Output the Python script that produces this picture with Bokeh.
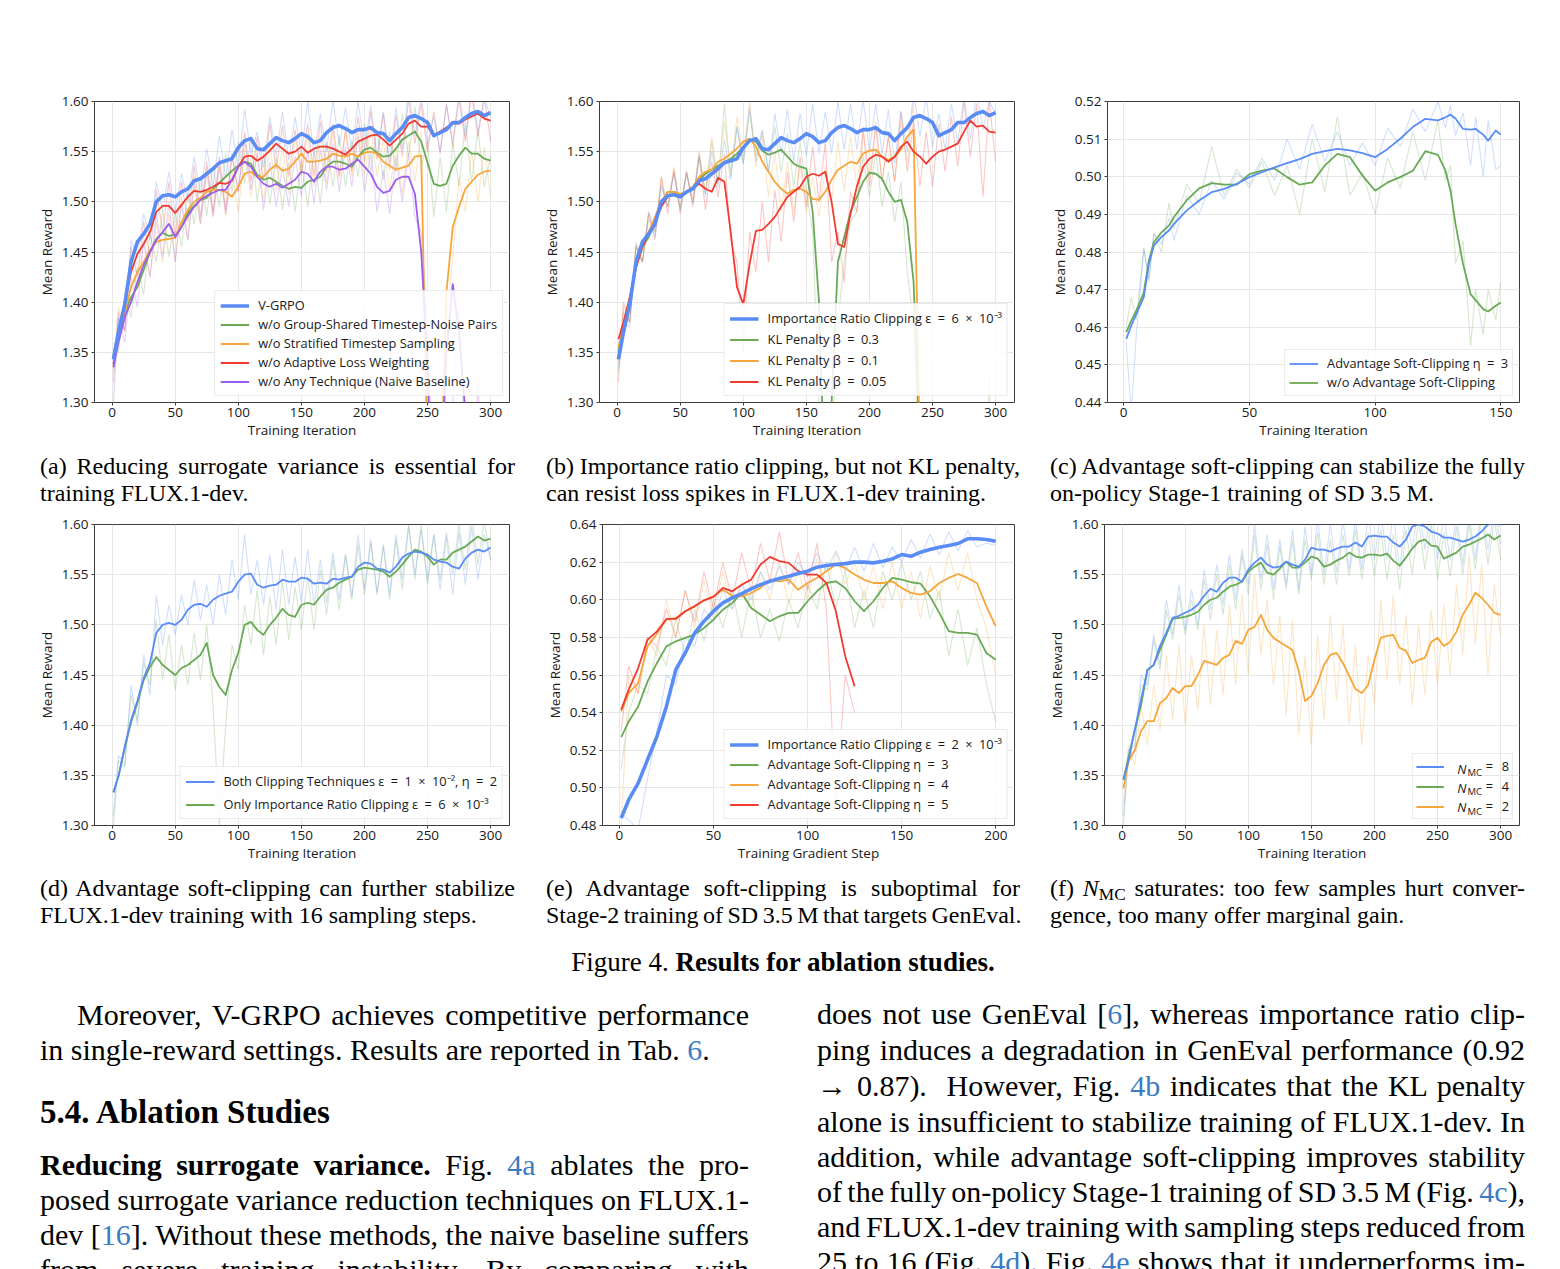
import numpy as np
from bokeh.plotting import figure
from bokeh.layouts import column, row
from bokeh.models import Div, FixedTicker, PrintfTickFormatter, Legend, LegendItem, Label, Range1d
from bokeh.embed import file_html
from bokeh.resources import INLINE

nan = float("nan")

# ---------------------------------------------------------------- data
ITER_300 = [1] + list(range(5, 301, 5))
STEP_200 = [1] + list(range(5, 201, 5))
ITER_150 = [1, 3, 5, 8, 10, 12, 15, 18, 20,
            25, 30, 35, 40, 45, 50, 55, 60, 65, 70, 75, 80, 85, 90, 95, 100, 105, 110, 115, 120, 125,
            128, 130, 132, 135, 138, 140, 143, 145, 148, 150]

# (a) surrogate-variance ablation, smoothed
a_vgrpo = [1.343, 1.370, 1.398, 1.440, 1.460, 1.468, 1.478, 1.500, 1.506, 1.507,
           1.505, 1.510, 1.513, 1.521, 1.523, 1.528, 1.533, 1.539, 1.541, 1.543,
           1.554, 1.561, 1.563, 1.553, 1.552, 1.558, 1.564, 1.561, 1.559, 1.563,
           1.568, 1.565, 1.559, 1.561, 1.569, 1.574, 1.576, 1.573, 1.569, 1.572,
           1.572, 1.574, 1.569, 1.568, 1.561, 1.568, 1.574, 1.584, 1.586, 1.583,
           1.579, 1.566, 1.569, 1.572, 1.579, 1.579, 1.584, 1.588, 1.590, 1.586,
           1.589]
a_no_shared = [1.345, 1.370, 1.390, 1.405, 1.415, 1.432, 1.450, 1.463, 1.469, 1.466,
               1.467, 1.475, 1.489, 1.496, 1.502, 1.504, 1.513, 1.519, 1.525, 1.531,
               1.536, 1.540, 1.538, 1.527, 1.522, 1.524, 1.520, 1.516, 1.513, 1.515,
               1.514, 1.520, 1.522, 1.525, 1.535, 1.540, 1.540, 1.538, 1.535, 1.545,
               1.552, 1.554, 1.549, 1.545, 1.546, 1.553, 1.562, 1.566, 1.570, 1.560,
               1.539, 1.518, 1.516, 1.518, 1.536, 1.546, 1.554, 1.548, 1.548, 1.543,
               1.541]
a_no_strat = [1.348, 1.370, 1.390, 1.415, 1.430, 1.440, 1.452, 1.460, 1.462, 1.463,
              1.464, 1.480, 1.492, 1.500, 1.504, 1.510, 1.512, 1.512, 1.510, 1.505,
              1.515, 1.528, 1.530, 1.525, 1.525, 1.532, 1.537, 1.531, 1.533, 1.540,
              1.548, 1.540, 1.540, 1.541, 1.543, 1.548, 1.546, 1.545, 1.548, 1.545,
              1.549, 1.550, 1.548, 1.540, 1.536, 1.532, 1.534, 1.536, 1.545, 1.546,
              1.250, 1.150, 1.200, 1.410, 1.475, 1.495, 1.513, 1.520, 1.527, 1.530,
              1.531]
a_no_weight = [1.338, 1.365, 1.400, 1.430, 1.448, 1.458, 1.470, 1.490, 1.496, 1.496,
               1.489, 1.497, 1.505, 1.511, 1.510, 1.512, 1.515, 1.519, 1.518, 1.521,
               1.535, 1.545, 1.546, 1.541, 1.545, 1.551, 1.558, 1.553, 1.548, 1.550,
               1.555, 1.549, 1.553, 1.555, 1.555, 1.553, 1.550, 1.547, 1.553, 1.560,
               1.563, 1.566, 1.567, 1.562, 1.556, 1.562, 1.568, 1.578, 1.581, 1.575,
               1.575, 1.566, 1.570, 1.574, 1.578, 1.578, 1.582, 1.585, 1.588, 1.583,
               1.581]
a_naive = [1.335, 1.360, 1.385, 1.400, 1.420, 1.437, 1.450, 1.462, 1.470, 1.478,
           1.465, 1.475, 1.486, 1.495, 1.502, 1.506, 1.509, 1.512, 1.512, 1.522,
           1.535, 1.540, 1.535, 1.525, 1.518, 1.515, 1.518, 1.514, 1.518, 1.522,
           1.530, 1.528, 1.520, 1.530, 1.535, 1.535, 1.532, 1.533, 1.538, 1.542,
           1.535, 1.528, 1.515, 1.509, 1.511, 1.522, 1.525, 1.525, 1.508, 1.450,
           1.340, 1.150, 1.200, 1.350, 1.418, 1.370, 1.290, 1.150, 1.100, 1.100,
           1.100]

# (a) per-iteration rewards
a_vgrpo_raw = [1.330, 1.385, 1.372, 1.462, 1.445, 1.488, 1.463, 1.520, 1.492, 1.530,
               1.490, 1.528, 1.500, 1.545, 1.508, 1.553, 1.515, 1.566, 1.524, 1.572,
               1.535, 1.592, 1.548, 1.570, 1.534, 1.585, 1.546, 1.590, 1.542, 1.585,
               1.548, 1.600, 1.545, 1.588, 1.550, 1.602, 1.556, 1.594, 1.550, 1.600,
               1.553, 1.596, 1.546, 1.590, 1.540, 1.594, 1.552, 1.612, 1.566, 1.606,
               1.558, 1.585, 1.550, 1.596, 1.560, 1.608, 1.565, 1.612, 1.570, 1.603,
               1.585]
a_no_shared_raw = [1.360, 1.350, 1.405, 1.385, 1.435, 1.408, 1.468, 1.440, 1.492, 1.445,
                   1.490, 1.455, 1.510, 1.478, 1.525, 1.486, 1.537, 1.495, 1.548, 1.510,
                   1.560, 1.518, 1.565, 1.500, 1.548, 1.498, 1.545, 1.492, 1.540, 1.490,
                   1.542, 1.495, 1.550, 1.498, 1.560, 1.515, 1.566, 1.515, 1.562, 1.525,
                   1.578, 1.530, 1.572, 1.522, 1.570, 1.530, 1.588, 1.545, 1.595, 1.535,
                   1.560, 1.485, 1.545, 1.490, 1.560, 1.515, 1.580, 1.520, 1.572, 1.515,
                   1.545]
a_no_strat_raw = [1.335, 1.395, 1.370, 1.440, 1.412, 1.465, 1.425, 1.480, 1.440, 1.488,
                  1.440, 1.505, 1.462, 1.525, 1.478, 1.535, 1.486, 1.538, 1.485, 1.530,
                  1.490, 1.552, 1.505, 1.550, 1.500, 1.558, 1.510, 1.555, 1.508, 1.565,
                  1.525, 1.568, 1.515, 1.566, 1.518, 1.572, 1.522, 1.570, 1.525, 1.570,
                  1.525, 1.575, 1.525, 1.562, 1.510, 1.556, 1.508, 1.560, 1.520, 1.570,
                  1.200, 1.100, 1.150, 1.380, 1.445, 1.525, 1.490, 1.550, 1.500, 1.555,
                  1.505]
a_no_weight_raw = [1.320, 1.390, 1.372, 1.455, 1.425, 1.480, 1.445, 1.512, 1.470, 1.520,
                   1.465, 1.520, 1.480, 1.536, 1.485, 1.540, 1.490, 1.545, 1.492, 1.548,
                   1.510, 1.570, 1.520, 1.565, 1.522, 1.578, 1.532, 1.576, 1.525, 1.572,
                   1.530, 1.578, 1.526, 1.580, 1.530, 1.578, 1.526, 1.572, 1.530, 1.585,
                   1.540, 1.590, 1.542, 1.588, 1.532, 1.586, 1.545, 1.602, 1.558, 1.598,
                   1.550, 1.590, 1.548, 1.598, 1.555, 1.602, 1.560, 1.608, 1.565, 1.605,
                   1.560]
a_naive_raw = [1.300, 1.385, 1.360, 1.425, 1.395, 1.460, 1.425, 1.488, 1.445, 1.500,
               1.440, 1.498, 1.462, 1.518, 1.478, 1.530, 1.485, 1.535, 1.488, 1.545,
               1.510, 1.562, 1.512, 1.548, 1.492, 1.540, 1.495, 1.535, 1.495, 1.545,
               1.505, 1.552, 1.498, 1.552, 1.512, 1.558, 1.510, 1.555, 1.515, 1.565,
               1.510, 1.550, 1.490, 1.532, 1.488, 1.545, 1.500, 1.548, 1.485, 1.470,
               1.380, 1.200, 1.150, 1.250, 1.300, 1.395, 1.250, 1.150, 1.325, 1.100,
               1.100]

# (b) importance ratio clipping vs. KL penalty
b_ratio_clip = list(a_vgrpo)
b_kl_03 = [1.350, 1.375, 1.400, 1.435, 1.455, 1.465, 1.480, 1.495, 1.510, 1.510,
           1.507, 1.510, 1.515, 1.522, 1.528, 1.532, 1.536, 1.540, 1.543, 1.548,
           1.555, 1.562, 1.560, 1.551, 1.547, 1.549, 1.552, 1.545, 1.538, 1.535,
           1.533, 1.490, 1.400, 1.200, 1.300, 1.440, 1.465, 1.490, 1.505, 1.520,
           1.529, 1.528, 1.523, 1.510, 1.500, 1.502, 1.480, 1.420, 1.250, 1.100,
           1.100, 1.100, 1.100, 1.100, 1.100, 1.100, 1.100, 1.100, 1.100, 1.100,
           1.100]
b_kl_01 = [1.355, 1.375, 1.405, 1.435, 1.455, 1.470, 1.485, 1.500, 1.510, 1.510,
           1.508, 1.510, 1.515, 1.525, 1.530, 1.532, 1.540, 1.543, 1.548, 1.553,
           1.560, 1.563, 1.555, 1.540, 1.530, 1.520, 1.513, 1.508, 1.512, 1.513,
           1.510, 1.503, 1.502, 1.510, 1.522, 1.532, 1.536, 1.540, 1.538, 1.548,
           1.551, 1.552, 1.545, 1.542, 1.545, 1.552, 1.565, 1.572, 1.250, 1.100,
           1.100, 1.100, 1.100, 1.100, 1.100, 1.100, 1.100, 1.100, 1.100, 1.100,
           1.100]
b_kl_005 = [1.363, 1.380, 1.405, 1.435, 1.455, 1.468, 1.480, 1.495, 1.505, 1.508,
            1.505, 1.510, 1.513, 1.518, 1.513, 1.510, 1.524, 1.520, 1.470, 1.415,
            1.398, 1.438, 1.471, 1.472, 1.478, 1.485, 1.495, 1.505, 1.510, 1.515,
            1.525, 1.528, 1.526, 1.530, 1.500, 1.458, 1.455, 1.488, 1.515, 1.535,
            1.543, 1.547, 1.545, 1.540, 1.545, 1.555, 1.560, 1.550, 1.545, 1.538,
            1.545, 1.550, 1.552, 1.555, 1.558, 1.570, 1.581, 1.575, 1.576, 1.570,
            1.569]
b_ratio_clip_raw = [1.335, 1.380, 1.375, 1.458, 1.440, 1.490, 1.465, 1.518, 1.495, 1.528,
                    1.492, 1.530, 1.498, 1.548, 1.505, 1.550, 1.518, 1.562, 1.522, 1.575,
                    1.538, 1.595, 1.545, 1.572, 1.530, 1.588, 1.548, 1.592, 1.540, 1.588,
                    1.545, 1.598, 1.548, 1.590, 1.548, 1.600, 1.552, 1.598, 1.552, 1.602,
                    1.550, 1.598, 1.548, 1.592, 1.538, 1.590, 1.550, 1.610, 1.565, 1.604,
                    1.555, 1.588, 1.552, 1.598, 1.558, 1.606, 1.562, 1.610, 1.572, 1.600,
                    1.588]
b_kl_03_raw = [1.330, 1.390, 1.380, 1.455, 1.440, 1.482, 1.470, 1.515, 1.495, 1.530,
               1.492, 1.528, 1.500, 1.545, 1.508, 1.560, 1.515, 1.598, 1.525, 1.575,
               1.538, 1.590, 1.540, 1.570, 1.530, 1.575, 1.530, 1.568, 1.515, 1.560,
               1.510, 1.470, 1.300, 1.150, 1.250, 1.380, 1.440, 1.480, 1.490, 1.545,
               1.505, 1.550, 1.495, 1.530, 1.480, 1.520, 1.430, 1.380, 1.200, 1.100,
               1.100, 1.100, 1.100, 1.100, 1.100, 1.100, 1.100, 1.100, 1.100, 1.330,
               1.100]
b_kl_01_raw = [1.340, 1.395, 1.380, 1.460, 1.440, 1.490, 1.470, 1.525, 1.495, 1.535,
               1.495, 1.530, 1.502, 1.550, 1.510, 1.565, 1.520, 1.580, 1.530, 1.585,
               1.545, 1.600, 1.535, 1.565, 1.505, 1.550, 1.490, 1.540, 1.490, 1.535,
               1.490, 1.525, 1.485, 1.535, 1.500, 1.560, 1.510, 1.565, 1.515, 1.575,
               1.525, 1.580, 1.520, 1.565, 1.520, 1.580, 1.540, 1.600, 1.200, 1.100,
               1.100, 1.100, 1.100, 1.100, 1.100, 1.100, 1.100, 1.100, 1.100, 1.100,
               1.100]
b_kl_005_raw = [1.320, 1.400, 1.380, 1.455, 1.440, 1.488, 1.462, 1.525, 1.488, 1.532,
                1.488, 1.530, 1.495, 1.545, 1.492, 1.540, 1.505, 1.548, 1.462, 1.440,
                1.350, 1.470, 1.430, 1.500, 1.440, 1.512, 1.460, 1.530, 1.480, 1.545,
                1.495, 1.555, 1.500, 1.560, 1.440, 1.470, 1.420, 1.510, 1.490, 1.570,
                1.515, 1.575, 1.520, 1.565, 1.520, 1.590, 1.530, 1.580, 1.515, 1.570,
                1.515, 1.578, 1.530, 1.585, 1.535, 1.600, 1.545, 1.598, 1.505, 1.600,
                1.540]

# (c) SD 3.5 M Stage-1, advantage soft-clipping
c_soft_clip = [0.4569, 0.4604, 0.4635, 0.4680, 0.4768, 0.4817, 0.4840, 0.4857, 0.4875,
               0.4910, 0.4937, 0.4959, 0.4968, 0.4981, 0.4999, 0.5012, 0.5025, 0.5036, 0.5047,
               0.5061, 0.5068, 0.5074, 0.5070, 0.5063, 0.5052, 0.5074, 0.5101, 0.5132, 0.5154,
               0.5150, 0.5158, 0.5165, 0.5155, 0.5127, 0.5125, 0.5127, 0.5112, 0.5096, 0.5123,
               0.5112]
c_no_clip = [0.4587, 0.4617, 0.4644, 0.4693, 0.4777, 0.4826, 0.4852, 0.4870, 0.4893,
             0.4937, 0.4969, 0.4983, 0.4979, 0.4979, 0.5007, 0.5016, 0.5022, 0.4999, 0.4979,
             0.4985, 0.5030, 0.5061, 0.5052, 0.5003, 0.4963, 0.4985, 0.4999, 0.5016, 0.5068,
             0.5058, 0.5016, 0.4963, 0.4874, 0.4768, 0.4688, 0.4672, 0.4648, 0.4642, 0.4657,
             0.4666]
c_soft_clip_raw = [0.4560, 0.4370, 0.4580, 0.4810, 0.4730, 0.4850, 0.4820, 0.4890, 0.4830,
                   0.4950, 0.4900, 0.4990, 0.4940, 0.5010, 0.4980, 0.5050, 0.4990, 0.5100, 0.5020,
                   0.5140, 0.5040, 0.5120, 0.5030, 0.5090, 0.5030, 0.5130, 0.5080, 0.5180, 0.5120,
                   0.5200, 0.5130, 0.5190, 0.5110, 0.5170, 0.5030, 0.5160, 0.5000, 0.5150, 0.5020,
                   0.5030]
c_no_clip_raw = [0.4600, 0.4680, 0.4620, 0.4810, 0.4720, 0.4850, 0.4800, 0.4930, 0.4860,
                 0.4980, 0.4930, 0.5080, 0.4950, 0.5020, 0.4970, 0.5040, 0.4950, 0.5030, 0.4900,
                 0.5100, 0.4960, 0.5160, 0.4950, 0.5010, 0.4900, 0.5050, 0.4970, 0.5120, 0.4990,
                 0.5150, 0.4990, 0.5030, 0.4770, 0.4830, 0.4550, 0.4700, 0.4580, 0.4700, 0.4620,
                 0.4720]

# (d) FLUX.1-dev with 16 sampling steps
d_both = [1.333, 1.349, 1.379, 1.405, 1.424, 1.447, 1.462, 1.492, 1.500, 1.502,
          1.500, 1.505, 1.515, 1.520, 1.521, 1.518, 1.525, 1.529, 1.531, 1.533,
          1.543, 1.550, 1.551, 1.540, 1.537, 1.539, 1.540, 1.545, 1.543, 1.543,
          1.547, 1.546, 1.541, 1.542, 1.541, 1.546, 1.545, 1.547, 1.548, 1.558,
          1.562, 1.561, 1.556, 1.555, 1.552, 1.558, 1.567, 1.571, 1.573, 1.572,
          1.570, 1.565, 1.563, 1.562, 1.558, 1.556, 1.566, 1.572, 1.575, 1.573,
          1.577]
d_ratio_only = [1.333, 1.349, 1.377, 1.403, 1.422, 1.445, 1.458, 1.468, 1.460, 1.455,
                1.450, 1.457, 1.460, 1.465, 1.470, 1.482, 1.450, 1.438, 1.430, 1.455,
                1.472, 1.500, 1.503, 1.495, 1.490, 1.500, 1.507, 1.516, 1.510, 1.508,
                1.520, 1.522, 1.520, 1.528, 1.535, 1.537, 1.542, 1.545, 1.548, 1.555,
                1.557, 1.556, 1.555, 1.553, 1.548, 1.553, 1.560, 1.568, 1.575, 1.573,
                1.568, 1.560, 1.565, 1.565, 1.572, 1.575, 1.578, 1.583, 1.588, 1.584,
                1.586]
d_both_raw = [1.310, 1.370, 1.360, 1.440, 1.400, 1.470, 1.430, 1.530, 1.480, 1.520,
              1.490, 1.530, 1.500, 1.545, 1.505, 1.540, 1.500, 1.550, 1.510, 1.565,
              1.525, 1.590, 1.530, 1.565, 1.520, 1.570, 1.515, 1.575, 1.520, 1.568,
              1.522, 1.575, 1.520, 1.565, 1.522, 1.572, 1.525, 1.570, 1.528, 1.590,
              1.535, 1.585, 1.532, 1.580, 1.530, 1.590, 1.545, 1.600, 1.550, 1.595,
              1.545, 1.590, 1.535, 1.588, 1.530, 1.592, 1.540, 1.598, 1.545, 1.590,
              1.565]
d_ratio_only_raw = [1.300, 1.365, 1.358, 1.430, 1.405, 1.462, 1.440, 1.505, 1.445, 1.490,
                    1.435, 1.480, 1.440, 1.492, 1.445, 1.500, 1.420, 1.300, 1.400, 1.480,
                    1.455, 1.520, 1.480, 1.535, 1.470, 1.528, 1.480, 1.545, 1.485, 1.538,
                    1.495, 1.548, 1.495, 1.555, 1.510, 1.565, 1.515, 1.570, 1.525, 1.580,
                    1.530, 1.582, 1.530, 1.578, 1.525, 1.585, 1.535, 1.598, 1.545, 1.600,
                    1.540, 1.590, 1.545, 1.592, 1.550, 1.600, 1.555, 1.610, 1.560, 1.605,
                    1.565]

# (e) SD 3.5 M Stage-2 (GenEval)
e_ratio_clip = [0.4839, 0.4937, 0.5025, 0.5150, 0.5274, 0.5433, 0.5628, 0.5717, 0.5823, 0.5886,
                0.5939, 0.5983, 0.6010, 0.6033, 0.6058, 0.6080, 0.6098, 0.6113, 0.6125, 0.6139,
                0.6152, 0.6173, 0.6182, 0.6187, 0.6192, 0.6200, 0.6200, 0.6196, 0.6205, 0.6217,
                0.6240, 0.6231, 0.6253, 0.6267, 0.6279, 0.6288, 0.6299, 0.6324, 0.6324, 0.6320,
                0.6311]
e_eta_3 = [0.5270, 0.5353, 0.5433, 0.5566, 0.5664, 0.5752, 0.5779, 0.5797, 0.5815, 0.5850,
           0.5894, 0.5947, 0.5983, 0.6036, 0.5956, 0.5921, 0.5886, 0.5912, 0.5930, 0.5930,
           0.5992, 0.6045, 0.6089, 0.6098, 0.6063, 0.5992, 0.5939, 0.5992, 0.6063, 0.6116,
           0.6107, 0.6093, 0.6086, 0.6019, 0.5930, 0.5833, 0.5824, 0.5824, 0.5815, 0.5717,
           0.5681]
e_eta_4 = [0.5407, 0.5504, 0.5557, 0.5752, 0.5820, 0.5894, 0.5903, 0.5939, 0.5965, 0.5997,
           0.6018, 0.6053, 0.6021, 0.6018, 0.6036, 0.6063, 0.6107, 0.6098, 0.6107, 0.6053,
           0.6089, 0.6116, 0.6152, 0.6187, 0.6169, 0.6134, 0.6107, 0.6089, 0.6089, 0.6098,
           0.6063, 0.6036, 0.6027, 0.6045, 0.6089, 0.6116, 0.6137, 0.6116, 0.6089, 0.5965,
           0.5859]
e_eta_5 = [0.5416, 0.5522, 0.5637, 0.5788, 0.5832, 0.5898, 0.5898, 0.5939, 0.5965, 0.5997,
           0.6015, 0.6063, 0.6045, 0.6080, 0.6107, 0.6187, 0.6228, 0.6205, 0.6196, 0.6152,
           0.6134, 0.6134, 0.6090, 0.5940, 0.5700, 0.5540, nan, nan, nan, nan,
           nan, nan, nan, nan, nan, nan, nan, nan, nan, nan,
           nan]
e_ratio_clip_raw = [0.4860, 0.4830, 0.4780, 0.5050, 0.5300, 0.5600, 0.5550, 0.5800, 0.5750, 0.5950,
                    0.5880, 0.6050, 0.5950, 0.6080, 0.6000, 0.6150, 0.6050, 0.6180, 0.6080, 0.6200,
                    0.6120, 0.6250, 0.6150, 0.6260, 0.6150, 0.6280, 0.6150, 0.6300, 0.6170, 0.6280,
                    0.6200, 0.6320, 0.6220, 0.6350, 0.6240, 0.6360, 0.6260, 0.6370, 0.6280, 0.6300,
                    0.6290]
e_eta_3_raw = [0.5100, 0.5400, 0.5550, 0.5500, 0.5750, 0.5650, 0.5900, 0.5700, 0.5950, 0.5780,
               0.6000, 0.5850, 0.6050, 0.5800, 0.6050, 0.5800, 0.5950, 0.5780, 0.6000, 0.5850,
               0.6080, 0.5950, 0.6200, 0.5950, 0.6150, 0.5850, 0.6050, 0.5850, 0.6150, 0.6000,
               0.6200, 0.6000, 0.6150, 0.5900, 0.6050, 0.5700, 0.5950, 0.5650, 0.5850, 0.5550,
               0.5350]
e_eta_4_raw = [0.4800, 0.5600, 0.5500, 0.5800, 0.5700, 0.6000, 0.5800, 0.6050, 0.5850, 0.6100,
               0.5900, 0.6150, 0.5950, 0.6100, 0.5950, 0.6150, 0.6000, 0.6200, 0.5980, 0.6150,
               0.6000, 0.6220, 0.6050, 0.6250, 0.6080, 0.6200, 0.6000, 0.6180, 0.5950, 0.6200,
               0.5950, 0.6150, 0.5900, 0.6180, 0.6000, 0.6250, 0.6050, 0.6250, 0.6000, 0.5850,
               0.5600]
e_eta_5_raw = [0.5300, 0.5650, 0.5500, 0.5800, 0.5750, 0.5950, 0.5800, 0.6050, 0.5880, 0.6150,
               0.5950, 0.6200, 0.6000, 0.6250, 0.6050, 0.6300, 0.6100, 0.6360, 0.6080, 0.6250,
               0.6050, 0.6300, 0.5950, 0.4900, 0.5600, 0.5400, nan, nan, nan, nan,
               nan, nan, nan, nan, nan, nan, nan, nan, nan, nan,
               nan]

# (f) number of Monte-Carlo samples
f_nmc_8 = [1.3455, 1.364, 1.3955, 1.4255, 1.455, 1.460, 1.479, 1.492, 1.507, 1.509,
           1.512, 1.515, 1.520, 1.529, 1.536, 1.533, 1.542, 1.547, 1.547, 1.543,
           1.555, 1.562, 1.567, 1.560, 1.557, 1.558, 1.563, 1.560, 1.558, 1.565,
           1.577, 1.575, 1.575, 1.573, 1.576, 1.578, 1.578, 1.582, 1.578, 1.588,
           1.589, 1.588, 1.588, 1.582, 1.578, 1.585, 1.598, 1.600, 1.598, 1.593,
           1.591, 1.587, 1.587, 1.585, 1.583, 1.585, 1.588, 1.593, 1.600, 1.601,
           1.600]
f_nmc_4 = [1.3455, 1.368, 1.395, 1.420, 1.455, 1.460, 1.475, 1.490, 1.506, 1.507,
           1.508, 1.510, 1.513, 1.520, 1.525, 1.527, 1.533, 1.538, 1.540, 1.543,
           1.553, 1.558, 1.562, 1.552, 1.550, 1.556, 1.563, 1.557, 1.557, 1.562,
           1.568, 1.566, 1.558, 1.560, 1.564, 1.567, 1.572, 1.568, 1.567, 1.570,
           1.570, 1.569, 1.571, 1.564, 1.559, 1.567, 1.576, 1.583, 1.585, 1.579,
           1.578, 1.566, 1.569, 1.572, 1.578, 1.580, 1.583, 1.586, 1.590, 1.585,
           1.589]
f_nmc_2 = [1.337, 1.364, 1.375, 1.394, 1.404, 1.404, 1.422, 1.427, 1.437, 1.432,
           1.439, 1.439, 1.450, 1.464, 1.462, 1.460, 1.467, 1.470, 1.484, 1.481,
           1.495, 1.498, 1.510, 1.495, 1.487, 1.483, 1.479, 1.475, 1.454, 1.424,
           1.429, 1.442, 1.460, 1.470, 1.472, 1.462, 1.449, 1.436, 1.432, 1.440,
           1.465, 1.487, 1.489, 1.490, 1.477, 1.474, 1.462, 1.465, 1.467, 1.483,
           1.487, 1.479, 1.483, 1.493, 1.510, 1.520, 1.532, 1.527, 1.520, 1.512,
           1.510]
f_nmc_8_raw = [1.310, 1.375, 1.380, 1.450, 1.440, 1.490, 1.460, 1.525, 1.490, 1.540,
               1.495, 1.535, 1.500, 1.555, 1.515, 1.560, 1.520, 1.570, 1.525, 1.575,
               1.540, 1.600, 1.545, 1.590, 1.535, 1.585, 1.540, 1.595, 1.535, 1.598,
               1.550, 1.605, 1.550, 1.600, 1.552, 1.605, 1.555, 1.605, 1.555, 1.610,
               1.565, 1.612, 1.565, 1.610, 1.555, 1.610, 1.575, 1.620, 1.575, 1.615,
               1.565, 1.610, 1.565, 1.610, 1.560, 1.610, 1.565, 1.620, 1.575, 1.615,
               1.580]
f_nmc_4_raw = [1.300, 1.370, 1.375, 1.440, 1.435, 1.485, 1.455, 1.515, 1.485, 1.530,
               1.490, 1.525, 1.495, 1.545, 1.505, 1.550, 1.510, 1.560, 1.515, 1.570,
               1.530, 1.590, 1.535, 1.580, 1.525, 1.578, 1.535, 1.585, 1.530, 1.585,
               1.545, 1.592, 1.540, 1.585, 1.540, 1.590, 1.548, 1.595, 1.545, 1.592,
               1.548, 1.595, 1.545, 1.590, 1.535, 1.595, 1.550, 1.605, 1.555, 1.600,
               1.545, 1.592, 1.548, 1.598, 1.550, 1.600, 1.555, 1.610, 1.560, 1.605,
               1.565]
f_nmc_2_raw = [1.320, 1.380, 1.360, 1.420, 1.380, 1.440, 1.395, 1.470, 1.405, 1.480,
               1.400, 1.470, 1.415, 1.500, 1.420, 1.495, 1.430, 1.520, 1.440, 1.530,
               1.450, 1.550, 1.470, 1.525, 1.440, 1.510, 1.410, 1.505, 1.390, 1.470,
               1.380, 1.490, 1.405, 1.510, 1.425, 1.500, 1.400, 1.480, 1.380, 1.470,
               1.420, 1.525, 1.445, 1.530, 1.440, 1.510, 1.420, 1.500, 1.430, 1.515,
               1.440, 1.520, 1.450, 1.540, 1.470, 1.570, 1.480, 1.560, 1.450, 1.540,
               1.490]

REWARD_TICKS = [1.30, 1.35, 1.40, 1.45, 1.50, 1.55, 1.60]
GENEVAL_TICKS = [0.48, 0.50, 0.52, 0.54, 0.56, 0.58, 0.60, 0.62, 0.64]
STAGE1_TICKS = [0.44, 0.45, 0.46, 0.47, 0.48, 0.49, 0.50, 0.51, 0.52]

# ---------------------------------------------------------------- styling
BLUE, GREEN, ORANGE, RED, PURPLE = "#5a8cf5", "#6aaa56", "#f6a63a", "#f13b31", "#9b5cf0"
FONT = "Open Sans"
TICK_FS = "13.5px"
LABEL_FS = "13.5px"
LEG_FS = "12.8px"
FRAME_H = 301
BOTTOM = 44
RAW_ALPHA = 0.28
SP = "\u2002"   # wider gaps around math operators in legend entries


def panel(xr, yr, xticks, yticks, xlabel, left, fw, right, top):
    p = figure(x_range=Range1d(*xr), y_range=Range1d(*yr),
               frame_width=fw, frame_height=FRAME_H,
               min_border_left=left, min_border_right=right,
               min_border_top=top, min_border_bottom=BOTTOM,
               output_backend="svg", toolbar_location=None)
    p.background_fill_color = "white"
    p.border_fill_color = "white"
    p.outline_line_color = "#3c3c3c"
    p.outline_line_width = 1
    p.xaxis.ticker = FixedTicker(ticks=xticks)
    p.yaxis.ticker = FixedTicker(ticks=yticks)
    p.yaxis.formatter = PrintfTickFormatter(format="%.2f")
    for ax in p.axis:
        ax.axis_line_color = None
        ax.major_tick_line_color = "#3c3c3c"
        ax.major_tick_out = 3
        ax.major_tick_in = 0
        ax.minor_tick_line_color = None
        ax.major_label_text_font = FONT
        ax.major_label_text_font_size = TICK_FS
        ax.major_label_text_color = "#1a1a1a"
        ax.axis_label_text_font = FONT
        ax.axis_label_text_font_size = LABEL_FS
        ax.axis_label_text_font_style = "normal"
        ax.axis_label_text_color = "#1a1a1a"
    p.xaxis.major_label_standoff = 2
    p.yaxis.major_label_standoff = 3
    p.xaxis.axis_label_standoff = 1
    p.yaxis.axis_label_standoff = 3
    p.xaxis.axis_label = xlabel
    p.yaxis.axis_label = "Mean Reward"
    p.grid.grid_line_color = "#e7e7e7"
    p.grid.grid_line_width = 1
    return p


def curves(p, x, series):
    """series: list of (smoothed, raw, color, width, label); raw drawn first."""
    xs = np.array(x, dtype=float)
    for sm, raw, color, width, label in series:
        p.line(xs, np.array(raw, dtype=float), color=color, alpha=RAW_ALPHA, line_width=1.1)
    out = []
    for sm, raw, color, width, label in series:
        r = p.line(xs, np.array(sm, dtype=float), color=color, line_width=width, line_join="round")
        out.append((label, r))
    return out


def legend(p, entries, spacing, padding, margin=6, glyph_width=29, standoff=9, bg_alpha=0.85):
    items = [LegendItem(label=lab, renderers=[r]) for lab, r in entries]
    lg = Legend(items=items, location="bottom_right", orientation="vertical",
                label_text_font=FONT, label_text_font_size=LEG_FS, label_text_color="#1a1a1a",
                glyph_width=glyph_width, glyph_height=15, label_height=15,
                label_standoff=standoff, spacing=spacing, padding=padding, margin=margin,
                border_line_color="#d6d6d6", border_line_width=1,
                background_fill_color="white", background_fill_alpha=bg_alpha)
    p.add_layout(lg)
    return lg


X300 = (-14, 315)

# (a)
pa = panel(X300, (1.30, 1.60), [0, 50, 100, 150, 200, 250, 300], REWARD_TICKS,
           "Training Iteration", 94, 415, 10, 101)
ea = curves(pa, ITER_300, [
    (a_no_shared, a_no_shared_raw, GREEN, 1.8, "w/o Group-Shared Timestep-Noise Pairs"),
    (a_no_strat, a_no_strat_raw, ORANGE, 1.8, "w/o Stratified Timestep Sampling"),
    (a_no_weight, a_no_weight_raw, RED, 1.8, "w/o Adaptive Loss Weighting"),
    (a_naive, a_naive_raw, PURPLE, 1.8, "w/o Any Technique (Naive Baseline)"),
    (a_vgrpo, a_vgrpo_raw, BLUE, 3.6, "V-GRPO"),
])
legend(pa, [ea[4], ea[0], ea[1], ea[2], ea[3]], spacing=1, padding=5)

# (b)
pb = panel(X300, (1.30, 1.60), [0, 50, 100, 150, 200, 250, 300], REWARD_TICKS,
           "Training Iteration", 80, 415, 10, 101)
eb = curves(pb, ITER_300, [
    (b_kl_03, b_kl_03_raw, GREEN, 1.8, f"KL Penalty β{SP}={SP}0.3"),
    (b_kl_01, b_kl_01_raw, ORANGE, 1.8, f"KL Penalty β{SP}={SP}0.1"),
    (b_kl_005, b_kl_005_raw, RED, 1.8, f"KL Penalty β{SP}={SP}0.05"),
    (b_ratio_clip, b_ratio_clip_raw, BLUE, 3.6,
     f"Importance Ratio Clipping ε{SP}={SP}6{SP}×{SP}10⁻³"),
])
legend(pb, [eb[3], eb[0], eb[1], eb[2]], spacing=3, padding=5)

# (c)
pc = panel((-6.45, 157.45), (0.44, 0.52), [0, 50, 100, 150], STAGE1_TICKS,
           "Training Iteration", 83, 412, 41, 101)
ec = curves(pc, ITER_150, [
    (c_no_clip, c_no_clip_raw, GREEN, 1.8, "w/o Advantage Soft-Clipping"),
    (c_soft_clip, c_soft_clip_raw, BLUE, 1.8, f"Advantage Soft-Clipping η{SP}={SP}3"),
])
legend(pc, [ec[1], ec[0]], spacing=1, padding=4)

# (d)
pd_ = panel(X300, (1.30, 1.60), [0, 50, 100, 150, 200, 250, 300], REWARD_TICKS,
            "Training Iteration", 94, 415, 10, 12)
ed = curves(pd_, ITER_300, [
    (d_ratio_only, d_ratio_only_raw, GREEN, 1.8,
     f"Only Importance Ratio Clipping ε{SP}={SP}6{SP}×{SP}10⁻³"),
    (d_both, d_both_raw, BLUE, 1.8,
     f"Both Clipping Techniques ε{SP}={SP}1{SP}×{SP}10⁻², η{SP}={SP}2"),
])
legend(pd_, [ed[1], ed[0]], spacing=5, padding=5)

# (e)
pe = panel((-8.95, 209.95), (0.48, 0.64), [0, 50, 100, 150, 200], GENEVAL_TICKS,
           "Training Gradient Step", 83, 412, 10, 12)
ee = curves(pe, STEP_200, [
    (e_eta_3, e_eta_3_raw, GREEN, 1.8, f"Advantage Soft-Clipping η{SP}={SP}3"),
    (e_eta_4, e_eta_4_raw, ORANGE, 1.8, f"Advantage Soft-Clipping η{SP}={SP}4"),
    (e_eta_5, e_eta_5_raw, RED, 1.8, f"Advantage Soft-Clipping η{SP}={SP}5"),
    (e_ratio_clip, e_ratio_clip_raw, BLUE, 3.6,
     f"Importance Ratio Clipping ε{SP}={SP}2{SP}×{SP}10⁻³"),
])
legend(pe, [ee[3], ee[0], ee[1], ee[2]], spacing=2, padding=5)

# (f)
NMC_GAP = SP * 5
pf = panel(X300, (1.30, 1.60), [0, 50, 100, 150, 200, 250, 300], REWARD_TICKS,
           "Training Iteration", 80, 415, 41, 12)
ef = curves(pf, ITER_300, [
    (f_nmc_2, f_nmc_2_raw, ORANGE, 1.8, NMC_GAP + "=\u2002\u20092"),
    (f_nmc_4, f_nmc_4_raw, GREEN, 1.8, NMC_GAP + "=\u2002\u20094"),
    (f_nmc_8, f_nmc_8_raw, BLUE, 1.8, NMC_GAP + "=\u2002\u20098"),
])
legend(pf, [ef[2], ef[1], ef[0]], spacing=2, padding=3, standoff=10, glyph_width=28,
       bg_alpha=0.0)

# italic N with an "MC" subscript in front of each "= k" entry of the legend in (f)
fx0, fx1 = X300
fy0, fy1 = 1.30, 1.60


def frame_px(px, py):
    return fx0 + px / 415 * (fx1 - fx0), fy0 + py / FRAME_H * (fy1 - fy0)


for row_mid in (56.6, 37.6, 18.3):
    nx, ny = frame_px(362.0, row_mid)
    pf.add_layout(Label(x=nx, y=ny, text="N", text_font=FONT, text_font_size="13px",
                        text_font_style="italic", text_align="right", text_baseline="middle",
                        text_color="#1a1a1a", level="overlay"))
    mx, my = frame_px(377.5, row_mid - 4.0)
    pf.add_layout(Label(x=mx, y=my, text="MC", text_font=FONT, text_font_size="9.5px",
                        text_align="right", text_baseline="middle", text_color="#1a1a1a",
                        level="overlay"))

# ---------------------------------------------------------------- text
SERIF = "'Liberation Serif', 'Times New Roman', serif"
LINK = "#3b7bc4"


def link(t):
    return f'<span style="color:{LINK}">{t}</span>'


def line(baseline, left, width, size, lh, html, align="justify", weight=400, ws=None):
    top = baseline - (lh - 1.107 * size) / 2 - 0.891 * size
    if align == "justify":
        al = "text-align:justify;text-align-last:justify;"
        if ws is None:
            ws = -3
    elif align == "center":
        al = "text-align:center;"
    else:
        al = "text-align:left;"
    wsp = f"word-spacing:{ws}px;" if ws is not None else ""
    return (f'<div style="position:absolute;left:{left}px;top:{top:.1f}px;width:{width}px;'
            f'font-size:{size}px;line-height:{lh}px;font-weight:{weight};{al}{wsp}white-space:nowrap;">'
            f'{html}</div>')


def block(height, lines):
    return (f'<div style="position:relative;width:1560px;height:{height}px;overflow:hidden;'
            f'font-family:{SERIF};color:#000;margin:0;padding:0;">' + "".join(lines) + "</div>")


CAP = 24
CAP_LH = 27
SUB = '<span style="font-size:0.72em;position:relative;top:0.25em;">MC</span>'

cap_row1 = block(66, [
    line(28.5, 40, 475, CAP, CAP_LH, "(a) Reducing surrogate variance is essential for"),
    line(55.8, 40, 475, CAP, CAP_LH, "training FLUX.1-dev.", align="left"),
    line(28.5, 546, 474, CAP, CAP_LH, "(b) Importance ratio clipping, but not KL penalty,"),
    line(55.8, 546, 474, CAP, CAP_LH, "can resist loss spikes in FLUX.1-dev training.", align="left"),
    line(28.5, 1050, 475, CAP, CAP_LH, "(c) Advantage soft-clipping can stabilize the fully"),
    line(55.8, 1050, 475, CAP, CAP_LH, "on-policy Stage-1 training of SD 3.5 M.", align="left"),
])

cap_row2 = block(120, [
    line(27.7, 40, 475, CAP, CAP_LH, "(d) Advantage soft-clipping can further stabilize"),
    line(54.3, 40, 475, CAP, CAP_LH, "FLUX.1-dev training with 16 sampling steps.", align="left"),
    line(27.7, 546, 474, CAP, CAP_LH, "(e) Advantage soft-clipping is suboptimal for"),
    line(54.3, 546, 474, CAP, CAP_LH, "Stage-2 training of SD 3.5 M that targets GenEval.",
         align="left", ws=-1.5),
    line(27.7, 1050, 475, CAP, CAP_LH,
         f"(f) <i>N</i>{SUB} saturates: too few samples hurt conver-"),
    line(54.3, 1050, 475, CAP, CAP_LH, "gence, too many offer marginal gain.", align="left"),
    line(102.3, 283, 1000, 27, 30,
         "Figure 4. <b>Results for ablation studies.</b>", align="center"),
])

BODY = 30
BODY_LH = 36
body = block(280, [
    line(36.0, 77, 672, BODY, BODY_LH, "Moreover, V-GRPO achieves competitive performance"),
    line(71.5, 40, 709, BODY, BODY_LH,
         f"in single-reward settings. Results are reported in Tab. {link('6')}.", align="left"),
    line(134.3, 40, 709, 33, 40, "5.4. Ablation Studies", align="left", weight=700),
    line(186.0, 40, 709, BODY, BODY_LH,
         f"<b>Reducing surrogate variance.</b> Fig. {link('4a')} ablates the pro-"),
    line(221.0, 40, 709, BODY, BODY_LH, "posed surrogate variance reduction techniques on FLUX.1-"),
    line(256.0, 40, 709, BODY, BODY_LH,
         f"dev [{link('16')}]. Without these methods, the naive baseline suffers"),
    line(291.5, 40, 709, BODY, BODY_LH, "from severe training instability. By comparing with"),
    line(35.0, 817, 708, BODY, BODY_LH,
         f"does not use GenEval [{link('6')}], whereas importance ratio clip-"),
    line(71.0, 817, 708, BODY, BODY_LH, "ping induces a degradation in GenEval performance (0.92"),
    line(106.7, 817, 708, BODY, BODY_LH,
         f"→ 0.87).&nbsp; However, Fig. {link('4b')} indicates that the KL penalty"),
    line(142.7, 817, 708, BODY, BODY_LH,
         "alone is insufficient to stabilize training of FLUX.1-dev. In"),
    line(177.7, 817, 708, BODY, BODY_LH,
         "addition, while advantage soft-clipping improves stability"),
    line(212.7, 817, 708, BODY, BODY_LH,
         f"of the fully on-policy Stage-1 training of SD 3.5 M (Fig. {link('4c')}),"),
    line(247.7, 817, 708, BODY, BODY_LH,
         "and FLUX.1-dev training with sampling steps reduced from"),
    line(283.0, 817, 708, BODY, BODY_LH,
         f"25 to 16 (Fig. {link('4d')}). Fig. {link('4e')} shows that it underperforms im-"),
])

layout = column(
    row(pa, pb, pc),
    Div(text=cap_row1, width=1560, height=66, margin=0),
    row(pd_, pe, pf),
    Div(text=cap_row2, width=1560, height=120, margin=0),
    Div(text=body, width=1560, height=280, margin=0),
)

open("out.html", "w").write(file_html(layout, INLINE, title="Ablation studies"))
